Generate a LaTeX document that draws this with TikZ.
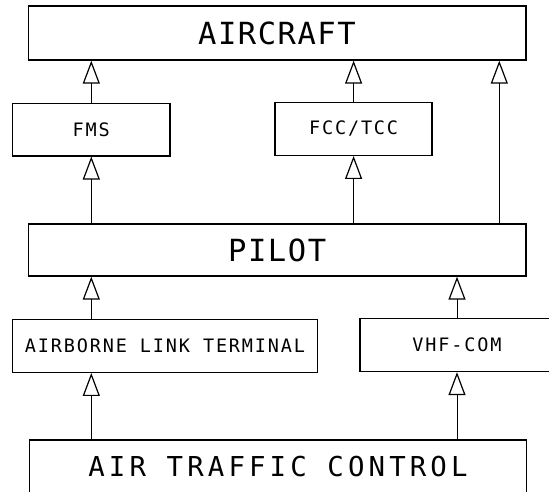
\documentclass[tikz,border=0pt]{standalone}
\usepackage{fontspec}
\usetikzlibrary{arrows.meta}
\newfontfamily\plotsmall[LetterSpace=10]{DejaVu Sans Mono}
\newfontfamily\plotbig[LetterSpace=5]{DejaVu Sans Mono}
\newfontfamily\plotwide[LetterSpace=15]{DejaVu Sans Mono}
\begin{document}
\begin{tikzpicture}[x=1pt,y=-1pt,
        blocco/.style={draw,line width=1.3pt,inner sep=0pt},
        piccolo/.style={blocco,font=\plotsmall\fontsize{18.5}{20}\selectfont},
        grande/.style={blocco,font=\plotbig\fontsize{30.5}{32}\selectfont},
        freccia/.style={-{Triangle[open,length=23pt,width=17pt,line width=1.2pt]},line width=1pt}]
        \useasboundingbox (0,0) rectangle (549,491);
        % livello alto: velivolo e sistemi di bordo
        \node[grande,minimum width=497.7pt,minimum height=54pt] (aircraft) at (277,33) {AIRCRAFT};
        \node[piccolo,minimum width=157.3pt,minimum height=52.7pt] (fms) at (91.3,129.5) {FMS};
        \node[piccolo,minimum width=157pt,minimum height=53pt] (fcc) at (353.6,128.8) {FCC/TCC};
        \node[grande,minimum width=497.7pt,minimum height=52pt] (pilot) at (277.2,250) {PILOT};
        % collegamenti di terra, VHF-COM esce a destra
        \node[piccolo,minimum width=304.6pt,minimum height=53pt] (alt) at (165,345.8) {AIRBORNE LINK TERMINAL};
        \node[piccolo,minimum width=194pt,minimum height=53pt] (vhf) at (457,345) {VHF-COM};
        \node[blocco,font=\plotwide\fontsize{27.4}{29}\selectfont,minimum width=497.4pt,minimum height=53.4pt] (atc) at (278,466.7) {AIR TRAFFIC CONTROL};
        \coordinate (diretto) at (499.3,150);
        \draw[freccia] (fms.north) -- (fms.north |- aircraft.south);
        \draw[freccia] (fcc.north) -- (fcc.north |- aircraft.south);
        \draw[freccia] (pilot.north -| diretto) -- (aircraft.south -| diretto);
        \draw[freccia] (pilot.north -| fms) -- (fms.south);
        \draw[freccia] (pilot.north -| fcc) -- (fcc.south);
        \draw[freccia] (alt.north -| fms) -- (pilot.south -| fms);
        \draw[freccia] (vhf.north) -- (vhf.north |- pilot.south);
        \draw[freccia] (atc.north -| fms) -- (alt.south -| fms);
        \draw[freccia] (atc.north -| vhf) -- (vhf.south);
    \end{tikzpicture}
\end{document}
